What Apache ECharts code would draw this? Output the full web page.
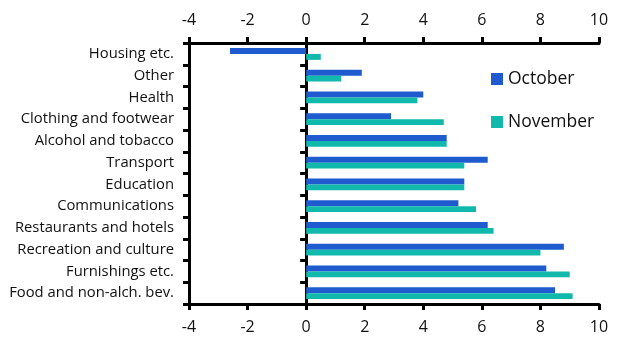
<!DOCTYPE html>
<html>
<head>
<meta charset="utf-8">
<script src="https://cdn.jsdelivr.net/npm/echarts@6/dist/echarts.min.js"></script>
<style>
  html, body { margin: 0; padding: 0; background: #fff; }
  #chart { width: 628px; height: 352px; }
</style>
</head>
<body>
<div id="chart"></div>
<script>
// categories, top to bottom
var categories = ['Housing etc.', 'Other', 'Health', 'Clothing and footwear', 'Alcohol and tobacco',
  'Transport', 'Education', 'Communications', 'Restaurants and hotels', 'Recreation and culture',
  'Furnishings etc.', 'Food and non-alch. bev.'];
var october = [-2.6, 1.9, 4.0, 2.9, 4.8, 6.2, 5.4, 5.2, 6.2, 8.8, 8.2, 8.5];
var november = [0.5, 1.2, 3.8, 4.7, 4.8, 5.4, 5.4, 5.8, 6.4, 8.0, 9.0, 9.1];
var xTicks = { min: -4, max: 10, step: 2 };

var fontName = 'Open Sans';
var black = '#000';

var chart = echarts.init(document.getElementById('chart'));

// value axis, used top and bottom
function valueAxis(pos) {
  return {
    type: 'value',
    position: pos,
    min: xTicks.min,
    max: xTicks.max,
    interval: xTicks.step,
    axisLine: { show: true, onZero: false, lineStyle: { color: black, width: 3 } },
    axisTick: { show: true, inside: false, length: 6, lineStyle: { color: black, width: 3 } },
    axisLabel: { color: '#111', fontSize: 16, fontFamily: fontName, margin: 15 },
    splitLine: { show: false }
  };
}

chart.setOption({
  animation: false,
  grid: { left: 189, right: 29, top: 43, bottom: 48, containLabel: false },
  legend: {
    orient: 'vertical',
    left: 486,
    top: 65,
    itemWidth: 12,
    itemHeight: 12,
    itemGap: 25,
    icon: 'rect',
    textStyle: { fontSize: 17.5, fontFamily: fontName, color: '#111' },
    data: ['October', 'November']
  },
  xAxis: [valueAxis('bottom'), valueAxis('top')],
  yAxis: [
    {
      type: 'category',
      data: categories,
      inverse: true,
      position: 'left',
      axisLine: { show: true, onZero: false, lineStyle: { color: black, width: 3 } },
      axisTick: { show: true, length: 6, lineStyle: { color: black, width: 3 } },
      axisLabel: { color: '#111', fontSize: 14.8, fontFamily: fontName, margin: 15 }
    },
    {
      // zero line with its own category ticks
      type: 'category',
      data: categories,
      inverse: true,
      position: 'left',
      axisLine: { show: true, onZero: true, lineStyle: { color: black, width: 3 } },
      axisTick: { show: true, length: 6, lineStyle: { color: black, width: 3 } },
      axisLabel: { show: false }
    }
  ],
  series: [
    {
      name: 'October',
      type: 'bar',
      data: october,
      itemStyle: { color: '#1f5bcf' },
      barGap: '0%',
      barCategoryGap: '45%'
    },
    {
      name: 'November',
      type: 'bar',
      data: november,
      itemStyle: { color: '#10b9ab' },
      barGap: '0%',
      barCategoryGap: '45%'
    }
  ]
});
</script>
</body>
</html>
